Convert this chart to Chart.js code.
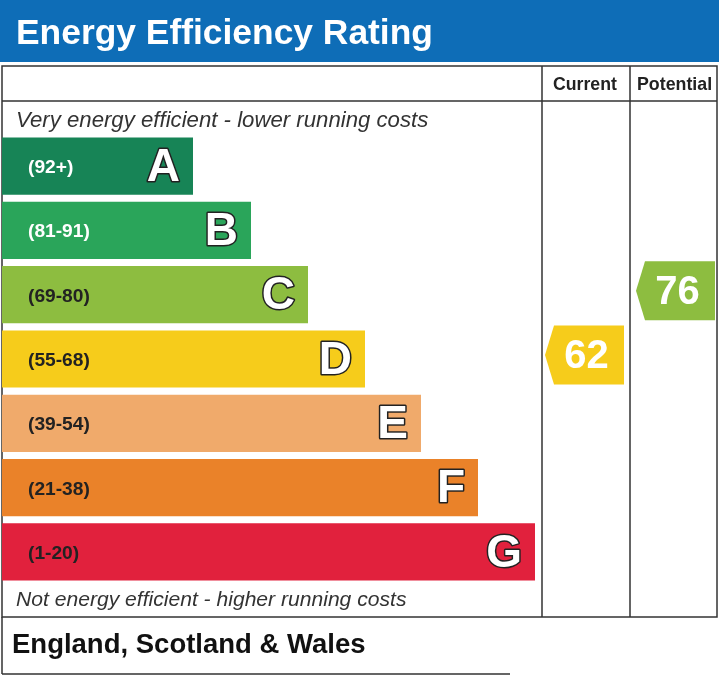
<!DOCTYPE html>
<html>
<head>
<meta charset="utf-8">
<script src="https://cdn.jsdelivr.net/npm/chart.js@4"></script>
<style>
  body { margin: 0; background: #fff; }
  #wrap { width: 719px; height: 675px; position: relative; }
</style>
</head>
<body>
<div id="wrap"><canvas id="epc"></canvas></div>
<script>
const bands = ['A', 'B', 'C', 'D', 'E', 'F', 'G'];
const ranges = ['(92+)', '(81-91)', '(69-80)', '(55-68)', '(39-54)', '(21-38)', '(1-20)'];
const barLengths = [191, 249, 306, 363, 419, 476, 533];
const bandColors = ['#178456', '#2aa55a', '#8dbd40', '#f6cc1b', '#f0aa6b', '#ea8229', '#e1213d'];
const rangeTextColors = ['#fff', '#fff', '#222', '#222', '#222', '#222', '#222'];
const currentRating = 62;
const potentialRating = 76;

function bandOf(v) {
    if (v >= 92) return 0;
    if (v >= 81) return 1;
    if (v >= 69) return 2;
    if (v >= 55) return 3;
    if (v >= 39) return 4;
    if (v >= 21) return 5;
    return 6;
}

// pick a font size so the text takes the same width as in the original
function sizedText(c, style, txt, x, y, w) {
    const fam = ' "Liberation Sans", Arial, sans-serif';
    c.font = style + ' 20px' + fam;
    const size = 20 * w / c.measureText(txt).width;
    c.font = style + ' ' + size.toFixed(1) + 'px' + fam;
    c.textAlign = 'left';
    c.fillText(txt, x, y);
}

const framePlugin = {
    id: 'frame',
    beforeDraw(chart) {
        const c = chart.ctx;
        c.save();
        c.fillStyle = '#fff';
        c.fillRect(0, 0, 719, 675);
        // header
        c.fillStyle = '#0e6db7';
        c.fillRect(0, 0, 719, 62);
        c.fillStyle = '#fff';
        c.textBaseline = 'alphabetic';
        sizedText(c, 'bold', 'Energy Efficiency Rating', 16, 44, 417);
        // table lines
        c.strokeStyle = '#333';
        c.lineWidth = 1.5;
        c.strokeRect(2, 66, 715, 551);
        c.beginPath();
        c.moveTo(542, 66); c.lineTo(542, 617);
        c.moveTo(630, 66); c.lineTo(630, 617);
        c.moveTo(2, 101); c.lineTo(717, 101);
        c.moveTo(2, 617); c.lineTo(2, 674);
        c.moveTo(2, 674); c.lineTo(510, 674);
        c.stroke();
        c.fillStyle = '#222';
        sizedText(c, 'bold', 'Current', 553, 90, 64);
        sizedText(c, 'bold', 'Potential', 637, 90, 75);
        c.fillStyle = '#333';
        sizedText(c, 'italic', 'Very energy efficient - lower running costs', 16, 127, 412);
        sizedText(c, 'italic', 'Not energy efficient - higher running costs', 16, 606, 391);
        c.fillStyle = '#111';
        sizedText(c, 'bold', 'England, Scotland & Wales', 12, 653, 354);
        c.restore();
    },
    afterDatasetsDraw(chart) {
        const c = chart.ctx;
        const meta = chart.getDatasetMeta(0);
        c.save();
        meta.data.forEach((bar, i) => {
            c.textBaseline = 'alphabetic';
            c.font = 'bold 17px "Liberation Sans", Arial, sans-serif';
            const w = c.measureText(ranges[i]).width * 1.13;
            c.fillStyle = rangeTextColors[i];
            sizedText(c, 'bold', ranges[i], 28, bar.y + 7, w);
            c.textBaseline = 'middle';
            c.font = 'bold 46px "Liberation Sans", Arial, sans-serif';
            c.textAlign = 'right';
            c.lineWidth = 3;
            c.strokeStyle = '#222';
            c.lineJoin = 'round';
            c.strokeText(bands[i], bar.x - 13, bar.y + 2);
            c.fillStyle = '#fff';
            c.fillText(bands[i], bar.x - 13, bar.y + 2);
        });
        const yScale = chart.scales.y;
        function arrow(v, left, right) {
            const b = bandOf(v);
            const cy = yScale.getPixelForValue(b) - 4;
            const h = 29.5;
            c.fillStyle = bandColors[b];
            c.beginPath();
            c.moveTo(left, cy);
            c.lineTo(left + 9, cy - h);
            c.lineTo(right, cy - h);
            c.lineTo(right, cy + h);
            c.lineTo(left + 9, cy + h);
            c.closePath();
            c.fill();
            c.fillStyle = '#fff';
            c.textBaseline = 'middle';
            c.font = 'bold 40px "Liberation Sans", Arial, sans-serif';
            c.textAlign = 'center';
            c.fillText(String(v), (left + right) / 2 + 2, cy + 2);
        }
        arrow(currentRating, 545, 624);
        arrow(potentialRating, 636, 715);
        c.restore();
    }
};

new Chart(document.getElementById('epc'), {
    type: 'bar',
    data: {
        labels: bands,
        datasets: [{
            data: barLengths,
            backgroundColor: bandColors,
            borderWidth: 0,
            barPercentage: 0.89,
            categoryPercentage: 1
        }]
    },
    options: {
        indexAxis: 'y',
        responsive: true,
        maintainAspectRatio: false,
        animation: false,
        layout: { padding: { top: 134, bottom: 91, left: 2, right: 177 } },
        scales: {
            x: { display: false, min: 0, max: 540 },
            y: { display: false }
        },
        plugins: { legend: { display: false }, tooltip: { enabled: false } }
    },
    plugins: [framePlugin]
});
</script>
</body>
</html>
